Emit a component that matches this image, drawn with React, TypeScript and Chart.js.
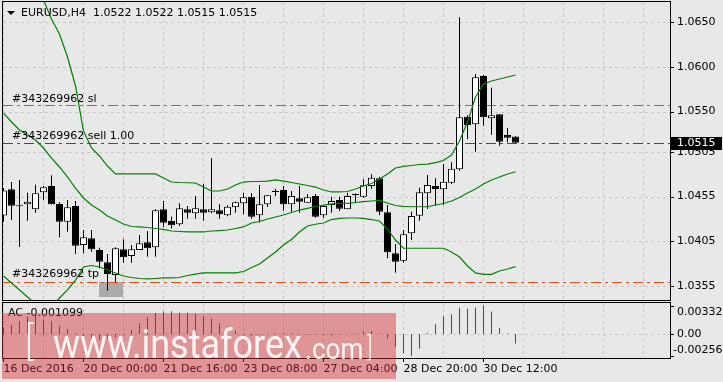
import React, { useEffect, useRef } from "react";
import { Chart, registerables } from "chart.js";

Chart.register(...registerables);

// ---------- data ----------
const openPrices = [
  1.04338, 1.04631, 1.04452, 1.04463, 1.04407, 1.04597, 1.04668, 1.04467, 1.04269, 1.04444,
  1.04008, 1.04083, 1.03953, 1.03815, 1.03673, 1.0396, 1.03886, 1.03953, 1.04039, 1.03983,
  1.04407, 1.04277, 1.0424, 1.04407, 1.04363, 1.04407, 1.04374, 1.04396, 1.0434, 1.0443,
  1.04474, 1.04548, 1.0434, 1.04463, 1.04601, 1.04623, 1.04463, 1.0453, 1.04481, 1.04556,
  1.0434, 1.04455, 1.04511, 1.04407, 1.04567, 1.04548, 1.04668, 1.04754, 1.04374, 1.03916,
  1.03833, 1.04139, 1.04336, 1.04586, 1.04668, 1.04631, 1.04705, 1.04854, 1.05442, 1.05357,
  1.05897, 1.05424, 1.05469, 1.05237, 1.0522,
];
const highPrices = [
  1.04645, 1.04712, 1.04735, 1.04593, 1.04682, 1.04668, 1.04787, 1.04486, 1.04511, 1.045,
  1.04176, 1.04176, 1.03978, 1.03908, 1.03983, 1.04072, 1.04008, 1.0412, 1.04165, 1.04407,
  1.045, 1.04327, 1.04474, 1.04444, 1.04556, 1.0469, 1.04977, 1.04463, 1.04452, 1.04494,
  1.04593, 1.04586, 1.04679, 1.04567, 1.04637, 1.04668, 1.04612, 1.04668, 1.04575, 1.04578,
  1.0445, 1.04548, 1.04548, 1.04593, 1.04586, 1.04742, 1.04798, 1.04772, 1.04455, 1.0402,
  1.04176, 1.0438, 1.04649, 1.04791, 1.04754, 1.04913, 1.04932, 1.06553, 1.05458, 1.05919,
  1.05908, 1.05766, 1.05469, 1.05316, 1.0522,
];
const lowPrices = [
  1.04269, 1.04288, 1.03989, 1.0428, 1.04369, 1.04511, 1.04461, 1.04094, 1.04157, 1.03908,
  1.03916, 1.03934, 1.03748, 1.03498, 1.03592, 1.03811, 1.03811, 1.03953, 1.03878, 1.03878,
  1.04206, 1.04193, 1.04221, 1.04302, 1.04302, 1.0428, 1.04363, 1.04302, 1.04329, 1.04369,
  1.04351, 1.04302, 1.0426, 1.04433, 1.04556, 1.04392, 1.0438, 1.04369, 1.04481, 1.04313,
  1.04313, 1.04369, 1.04388, 1.04407, 1.04489, 1.04537, 1.04637, 1.04344, 1.0386, 1.03699,
  1.03811, 1.04064, 1.0428, 1.04411, 1.04444, 1.04455, 1.0469, 1.04839, 1.05193, 1.05051,
  1.05341, 1.05241, 1.05118, 1.05156, 1.0515,
];
const closePrices = [
  1.04617, 1.04448, 1.04441, 1.04492, 1.04586, 1.04653, 1.04463, 1.04269, 1.0443, 1.04001,
  1.04094, 1.0396, 1.03822, 1.03684, 1.03972, 1.03871, 1.0396, 1.04027, 1.03972, 1.04396,
  1.04258, 1.04229, 1.04419, 1.04369, 1.04419, 1.04369, 1.04407, 1.04351, 1.04436, 1.04486,
  1.04541, 1.04325, 1.04463, 1.04564, 1.04601, 1.04463, 1.04556, 1.04492, 1.04541, 1.04325,
  1.04444, 1.045, 1.04414, 1.04556, 1.04567, 1.04675, 1.0476, 1.0438, 1.03927, 1.03822,
  1.04128, 1.04332, 1.04597, 1.04679, 1.04634, 1.04716, 1.04861, 1.05435, 1.05346, 1.05882,
  1.05435, 1.05458, 1.05163, 1.05207, 1.0515,
];
const bandUpper = [
  1.07584, 1.07461, 1.07327, 1.0717, 1.06969, 1.06746, 1.06534, 1.06366, 1.06109, 1.05785,
  1.05282, 1.05092, 1.05003, 1.04891, 1.04802, 1.04802, 1.04802, 1.04802, 1.04802, 1.04802,
  1.04757, 1.04712, 1.04707, 1.04704, 1.04701, 1.04656, 1.04612, 1.04612, 1.04634, 1.04679,
  1.04712, 1.04718, 1.04718, 1.04723, 1.04735, 1.04723, 1.04707, 1.0469, 1.04673, 1.04656,
  1.04623, 1.04601, 1.04601, 1.04606, 1.04634, 1.04668, 1.04696, 1.04746, 1.04802, 1.04869,
  1.04886, 1.04897, 1.04908, 1.04913, 1.04928, 1.04953, 1.05014, 1.0517, 1.05383, 1.05662,
  1.05807, 1.05841, 1.05863, 1.05886, 1.05908,
];
const bandMiddle = [
  1.05483, 1.05383, 1.05293, 1.05237, 1.05182, 1.05092, 1.0498, 1.0488, 1.04768, 1.04645,
  1.04534, 1.04455, 1.04399, 1.04332, 1.04288, 1.04243, 1.04215, 1.0421, 1.04204, 1.04193,
  1.04182, 1.04165, 1.04159, 1.04154, 1.04154, 1.04154, 1.04165, 1.0417, 1.04176, 1.04193,
  1.0421, 1.04254, 1.04271, 1.04299, 1.04321, 1.04344, 1.04372, 1.04399, 1.04418, 1.04439,
  1.04455, 1.04467, 1.04472, 1.04474, 1.04483, 1.04494, 1.045, 1.04506, 1.04478, 1.0445,
  1.04439, 1.04436, 1.04436, 1.04436, 1.04455, 1.04472, 1.045, 1.04539, 1.04589, 1.04634,
  1.0469, 1.04735, 1.04768, 1.04802, 1.04827,
];
const bandLower = [
  1.03662, 1.03584, 1.03506, 1.03427, 1.03349, 1.03293, 1.03316, 1.03416, 1.03506, 1.03617,
  1.03763, 1.03779, 1.03763, 1.03729, 1.03696, 1.03662, 1.03645, 1.03634, 1.03629, 1.03634,
  1.0364, 1.0364, 1.03645, 1.03668, 1.03684, 1.03696, 1.03696, 1.03696, 1.03696, 1.03696,
  1.03712, 1.03757, 1.03796, 1.03863, 1.0393, 1.04008, 1.0407, 1.04154, 1.04221, 1.0424,
  1.04254, 1.04293, 1.04305, 1.0431, 1.0431, 1.04305, 1.04293, 1.04277, 1.04187, 1.04064,
  1.03972, 1.03972, 1.03972, 1.03972, 1.03972, 1.03972, 1.0393, 1.03874, 1.03774, 1.03696,
  1.03681, 1.03681, 1.03718, 1.0374, 1.03766,
];
const acValues = [
  0.0008, 0.00103, 0.00152, 0.00198, 0.00226, 0.00168, 0.00149, 0.00092, 0.00057, 0.0001,
  -0.00031, -0.00088, -0.00069, -0.00049, -0.00038, -0.0001, 0.00046, 0.00123, 0.00191, 0.00244,
  0.00263, 0.00266, 0.00249, 0.00247, 0.00237, 0.00206, 0.0018, 0.00123, 0.00084, 0.00038,
  -0.0001, -0.0002, -0.0001, 0.00005, 0.0001, 0.00015, 0.0001, 0.00005, -0.00005, -0.0001,
  -0.00015, -0.0002, -0.0001, 0.00002, 0.0001, 0.00028, 0.00035, 0.00005, -0.00052, -0.0015,
  -0.00225, -0.00256, -0.00172, 0.00015, 0.00115, 0.0021, 0.00229, 0.00306, 0.00294, 0.00308,
  0.003321, 0.00263, 0.0007, 0.00008, -0.001099,
];
const priceTicks = [1.065, 1.06, 1.055, 1.0505, 1.0455, 1.0405, 1.0355];
const timeTickIndex = [0, 10, 20, 30, 40, 50, 60];
const timeTickLabels = [
  "16 Dec 2016", "20 Dec 00:00", "21 Dec 16:00", "23 Dec 08:00",
  "27 Dec 04:00", "28 Dec 20:00", "30 Dec 12:00",
];
const acTickValues = [0.003321, 0, -0.00256];
const acTickLabels = ["0.003321", "0.00", "-0.00256"];
const orderId = "#343269962";
const slPrice = 1.0557;
const entryPrice = 1.0515;
const tpPrice = 1.036;
const headerText = "EURUSD,H4  1.0522 1.0522 1.0515 1.0515";
const acTitle = "AC -0.001099";
const lastPriceLabel = "1.0515";

// ---------- styling / scale ranges ----------
const FONT = '"DejaVu Sans", Verdana, sans-serif';
const BG = "#E8E8E8";
const GRID = "#C6C6C6";
const TEXT = "#000000";
const BAND = "#008000";
const LEVEL_RED = "#F04A14";
const LEVEL_GREEN = "#008000";
const X_MIN = -0.0625;
const X_MAX = 83.3125;
const P_MIN = 1.033939;
const P_MAX = 1.067235;
const AC_MIN = -0.002797;
const AC_MAX = 0.003613;

function hline(ctx: CanvasRenderingContext2D, x1: number, x2: number, y: number) {
  ctx.beginPath();
  ctx.moveTo(x1, y);
  ctx.lineTo(x2, y);
  ctx.stroke();
}
function vline(ctx: CanvasRenderingContext2D, x: number, y1: number, y2: number) {
  ctx.beginPath();
  ctx.moveTo(x, y1);
  ctx.lineTo(x, y2);
  ctx.stroke();
}

const mainDecor = {
  id: "mainDecor",
  beforeDatasetsDraw(chart: any) {
    const { ctx, chartArea: a } = chart;
    const xs = chart.scales.x;
    const ys = chart.scales.y;
    ctx.save();
    ctx.lineWidth = 1;
    ctx.strokeStyle = GRID;
    ctx.setLineDash([3, 3]);
    priceTicks.forEach((v) => {
      const py = Math.round(ys.getPixelForValue(v)) + 0.5;
      hline(ctx, a.left, a.right, py);
    });
    for (let i = 0; xs.getPixelForValue(i) < a.right; i += 5) {
      const px = Math.floor(xs.getPixelForValue(i)) + 0.5;
      vline(ctx, px, a.top, a.bottom);
    }
    ctx.setLineDash([]);
    const bx1 = Math.floor(xs.getPixelForValue(12));
    const bx2 = Math.floor(xs.getPixelForValue(15));
    const by = Math.round(ys.getPixelForValue(tpPrice));
    ctx.fillStyle = "#AAAAAA";
    ctx.fillRect(bx1, by, bx2 - bx1, 15);
    ctx.setLineDash([10, 4, 3, 4]);
    ctx.strokeStyle = LEVEL_RED;
    [slPrice, tpPrice].forEach((p) => {
      hline(ctx, a.left, a.right, Math.round(ys.getPixelForValue(p)) + 0.5);
    });
    ctx.strokeStyle = LEVEL_GREEN;
    hline(ctx, a.left, a.right, Math.round(ys.getPixelForValue(entryPrice)) + 0.5);
    ctx.restore();
  },
  afterDraw(chart: any) {
    const { ctx, chartArea: a } = chart;
    const ys = chart.scales.y;
    ctx.save();
    ctx.setLineDash([]);
    ctx.strokeStyle = "#000";
    ctx.lineWidth = 1;
    ctx.strokeRect(a.left - 0.5, a.top - 0.5, a.right - a.left + 1, a.bottom - a.top + 1);
    priceTicks.forEach((v) => {
      const py = Math.round(ys.getPixelForValue(v)) + 0.5;
      hline(ctx, a.right, a.right + 4, py);
    });
    // header
    ctx.fillStyle = TEXT;
    ctx.beginPath();
    ctx.moveTo(7, 11);
    ctx.lineTo(15, 11);
    ctx.lineTo(11, 15);
    ctx.closePath();
    ctx.fill();
    ctx.font = `11px ${FONT}`;
    ctx.textBaseline = "middle";
    ctx.textAlign = "left";
    ctx.fillText(headerText, 21, 13);
    ctx.fillText(`${orderId} sl`, 12, ys.getPixelForValue(slPrice) - 6.5);
    ctx.fillText(`${orderId} sell 1.00`, 12, ys.getPixelForValue(entryPrice) - 6.5);
    ctx.fillText(`${orderId} tp`, 12, ys.getPixelForValue(tpPrice) - 7);
    // current price box
    const py = ys.getPixelForValue(entryPrice);
    ctx.fillStyle = "#000";
    ctx.fillRect(a.right + 1, Math.round(py) - 6, 51, 13);
    ctx.fillStyle = "#FFF";
    ctx.fillText(lastPriceLabel, a.right + 7, py + 0.5);
    ctx.restore();
  },
};

const acDecor = {
  id: "acDecor",
  beforeDatasetsDraw(chart: any) {
    const { ctx, chartArea: a } = chart;
    const xs = chart.scales.x;
    const ys = chart.scales.y;
    ctx.save();
    ctx.lineWidth = 1;
    ctx.strokeStyle = GRID;
    ctx.setLineDash([3, 3]);
    for (let i = 0; xs.getPixelForValue(i) < a.right; i += 5) {
      const px = Math.floor(xs.getPixelForValue(i)) + 0.5;
      vline(ctx, px, a.top, a.bottom);
    }
    hline(ctx, a.left, a.right, Math.round(ys.getPixelForValue(0)) + 0.5);
    ctx.restore();
  },
  afterDraw(chart: any) {
    const { ctx, chartArea: a } = chart;
    const xs = chart.scales.x;
    const ys = chart.scales.y;
    ctx.save();
    ctx.setLineDash([]);
    ctx.strokeStyle = "#000";
    ctx.lineWidth = 1;
    ctx.strokeRect(a.left - 0.5, a.top - 0.5, a.right - a.left + 1, a.bottom - a.top + 1);
    acTickValues.forEach((v) => {
      const py = Math.round(ys.getPixelForValue(v)) + 0.5;
      hline(ctx, a.right, a.right + 4, py);
    });
    timeTickIndex.forEach((i) => {
      const px = Math.floor(xs.getPixelForValue(i)) + 0.5;
      vline(ctx, px, a.bottom, a.bottom + 4);
    });
    ctx.fillStyle = TEXT;
    ctx.font = `11px ${FONT}`;
    ctx.textBaseline = "middle";
    ctx.textAlign = "left";
    ctx.fillText(acTitle, 8, a.top + 10);
    acTickValues.forEach((v, k) => {
      const py = ys.getPixelForValue(v);
      const label = acTickLabels[k];
      const yy = k === 0 ? py + 6.5 : k === acTickValues.length - 1 ? py - 6 : py;
      const xx = label.startsWith("-") ? a.right + 3 : a.right + 7;
      ctx.fillText(label, xx, yy);
    });
    ctx.restore();
  },
};

export default function App() {
  const mainRef = useRef<HTMLCanvasElement>(null);
  const acRef = useRef<HTMLCanvasElement>(null);

  useEffect(() => {
    const idx = openPrices.map((_, i) => i);
    const bandStyle = {
      type: "line",
      borderColor: BAND,
      borderWidth: 1.2,
      pointRadius: 0,
      tension: 0,
      order: 0,
    };
    const main = new Chart(mainRef.current as HTMLCanvasElement, {
      type: "line",
      data: {
        datasets: [
          { ...bandStyle, data: bandUpper.map((v, i) => ({ x: i, y: v })) },
          { ...bandStyle, data: bandMiddle.map((v, i) => ({ x: i, y: v })) },
          { ...bandStyle, data: bandLower.map((v, i) => ({ x: i, y: v })) },
          {
            type: "bar",
            data: idx.map((i) => ({ x: i, y: [openPrices[i], closePrices[i]] })),
            backgroundColor: idx.map((i) => (closePrices[i] < openPrices[i] ? "#000000" : "#FFFFFF")),
            borderColor: "#000000",
            borderWidth: 1,
            borderSkipped: false,
            barThickness: 7,
            minBarLength: 1,
            grouped: false,
            inflateAmount: 0,
            order: 1,
          },
          {
            type: "bar",
            data: idx.map((i) => ({ x: i, y: [lowPrices[i], highPrices[i]] })),
            backgroundColor: "#000000",
            borderWidth: 0,
            barThickness: 1,
            grouped: false,
            inflateAmount: 0,
            order: 2,
          },
        ] as any,
      },
      options: {
        responsive: false,
        maintainAspectRatio: false,
        animation: false,
        devicePixelRatio: 1,
        events: [],
        layout: { padding: { left: 3, top: 2, right: 0, bottom: 1 } },
        plugins: { legend: { display: false }, tooltip: { enabled: false } },
        scales: {
          x: { type: "linear", min: X_MIN, max: X_MAX, offset: false, display: false },
          y: {
            type: "linear",
            position: "right",
            min: P_MIN,
            max: P_MAX,
            grid: { display: false, drawTicks: false },
            border: { display: false },
            afterBuildTicks: (s: any) => {
              s.ticks = priceTicks.map((v) => ({ value: v }));
            },
            afterFit: (s: any) => {
              s.width = 53;
              s.paddingTop = 0;
              s.paddingBottom = 0;
            },
            ticks: {
              autoSkip: false,
              padding: 7,
              color: TEXT,
              font: { family: FONT, size: 11 },
              callback: (v: any) => Number(v).toFixed(4),
            },
          },
        },
      } as any,
      plugins: [mainDecor],
    });

    const ac = new Chart(acRef.current as HTMLCanvasElement, {
      type: "bar",
      data: {
        datasets: [
          {
            data: acValues.map((v, i) => ({ x: i, y: v })),
            backgroundColor: acValues.map((v, i) => (i === 0 || v >= acValues[i - 1] ? "#008000" : "#FF0000")),
            borderWidth: 0,
            barThickness: 1,
            grouped: false,
            inflateAmount: 0,
          },
        ] as any,
      },
      options: {
        responsive: false,
        maintainAspectRatio: false,
        animation: false,
        devicePixelRatio: 1,
        events: [],
        layout: { padding: { left: 3, top: 2, right: 0, bottom: 0 } },
        plugins: { legend: { display: false }, tooltip: { enabled: false } },
        scales: {
          x: {
            type: "linear",
            position: "bottom",
            min: X_MIN,
            max: X_MAX,
            offset: false,
            grid: { display: false, drawTicks: false },
            border: { display: false },
            afterBuildTicks: (s: any) => {
              s.ticks = timeTickIndex.map((v) => ({ value: v }));
            },
            afterFit: (s: any) => {
              s.height = 24;
              s.paddingLeft = 0;
              s.paddingRight = 0;
            },
            ticks: {
              autoSkip: false,
              maxRotation: 0,
              minRotation: 0,
              align: "start",
              padding: 5,
              color: TEXT,
              font: { family: FONT, size: 11 },
              callback: (_v: any, k: number) => timeTickLabels[k],
            },
          },
          y: {
            type: "linear",
            position: "right",
            min: AC_MIN,
            max: AC_MAX,
            grid: { display: false, drawTicks: false },
            border: { display: false },
            ticks: { display: false },
            afterFit: (s: any) => {
              s.width = 53;
              s.paddingTop = 0;
              s.paddingBottom = 0;
            },
          },
        },
      } as any,
      plugins: [acDecor],
    });

    return () => {
      main.destroy();
      ac.destroy();
    };
  }, []);

  const wm: React.CSSProperties = {
    position: "absolute",
    fontFamily: "Roboto, 'Open Sans', sans-serif",
    fontWeight: 400,
    lineHeight: 1,
    color: "rgba(255,255,255,0.9)",
    whiteSpace: "nowrap",
    transform: "scaleX(0.9)",
    transformOrigin: "left top",
  };

  return (
    <div
      style={{
        position: "fixed",
        left: 0,
        top: 0,
        width: 723,
        height: 382,
        background: BG,
        overflow: "hidden",
      }}
    >
      <canvas ref={mainRef} width={723} height={301} style={{ position: "absolute", left: 0, top: 0 }} />
      <canvas ref={acRef} width={723} height={81} style={{ position: "absolute", left: 0, top: 301 }} />
      <div
        style={{
          position: "absolute",
          left: 2,
          top: 313,
          width: 394,
          height: 66,
          background: "rgba(210,40,40,0.43)",
          overflow: "hidden",
          pointerEvents: "none",
        }}
      >
        <span style={{ ...wm, fontSize: 40, fontWeight: 300, left: 23, top: 9 }}>[</span>
        <span style={{ ...wm, fontSize: 40, left: 51, top: 12 }}>www.instaforex</span>
        <span style={{ ...wm, fontSize: 29, left: 303, top: 21.6 }}>.com</span>
        <span style={{ ...wm, fontSize: 27, fontWeight: 300, left: 365, top: 21 }}>]</span>
      </div>
    </div>
  );
}
